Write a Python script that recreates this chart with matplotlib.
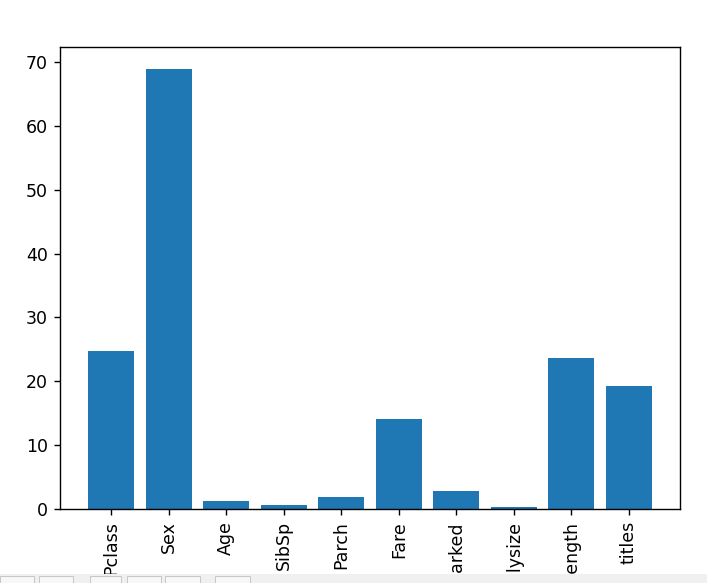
import matplotlib
matplotlib.use("Agg")
import matplotlib.pyplot as plt
from matplotlib.patches import Rectangle

# feature importance scores
features = ["Pclass", "Sex", "Age", "SibSp", "Parch", "Fare",
            "Embarked", "Familysize", "Name_length", "titles"]
scores = [24.7, 68.9, 1.2, 0.63, 1.83, 14.1, 2.77, 0.26, 23.7, 19.2]

W, H, DPI = 707, 583, 125
fig = plt.figure(figsize=(W / DPI, H / DPI), dpi=DPI)
ax = fig.add_axes([60 / W, (H - 509) / H, 620 / W, 462 / H])

ax.bar(range(len(features)), scores)
ax.set_xticks(range(len(features)))
ax.set_xticklabels(features, rotation="vertical")
ax.set_yticks([0, 10, 20, 30, 40, 50, 60, 70])

# grey window toolbar strip at the bottom edge
strip_top = 574
fig.patches.append(Rectangle((0, 0), 1, (H - strip_top) / H, transform=fig.transFigure,
                             facecolor="#f0f0f0", edgecolor="none", zorder=10))
for x0, x1 in [(0, 34), (39, 73), (90, 121), (127, 161), (165, 200), (215, 250)]:
    fig.patches.append(Rectangle((x0 / W, -0.01), (x1 - x0) / W, (H - strip_top - 2) / H + 0.01,
                                 transform=fig.transFigure, facecolor="#f7f7f7",
                                 edgecolor="#c8c8c8", linewidth=0.6, zorder=11))

fig.savefig("out.png", dpi=DPI)
